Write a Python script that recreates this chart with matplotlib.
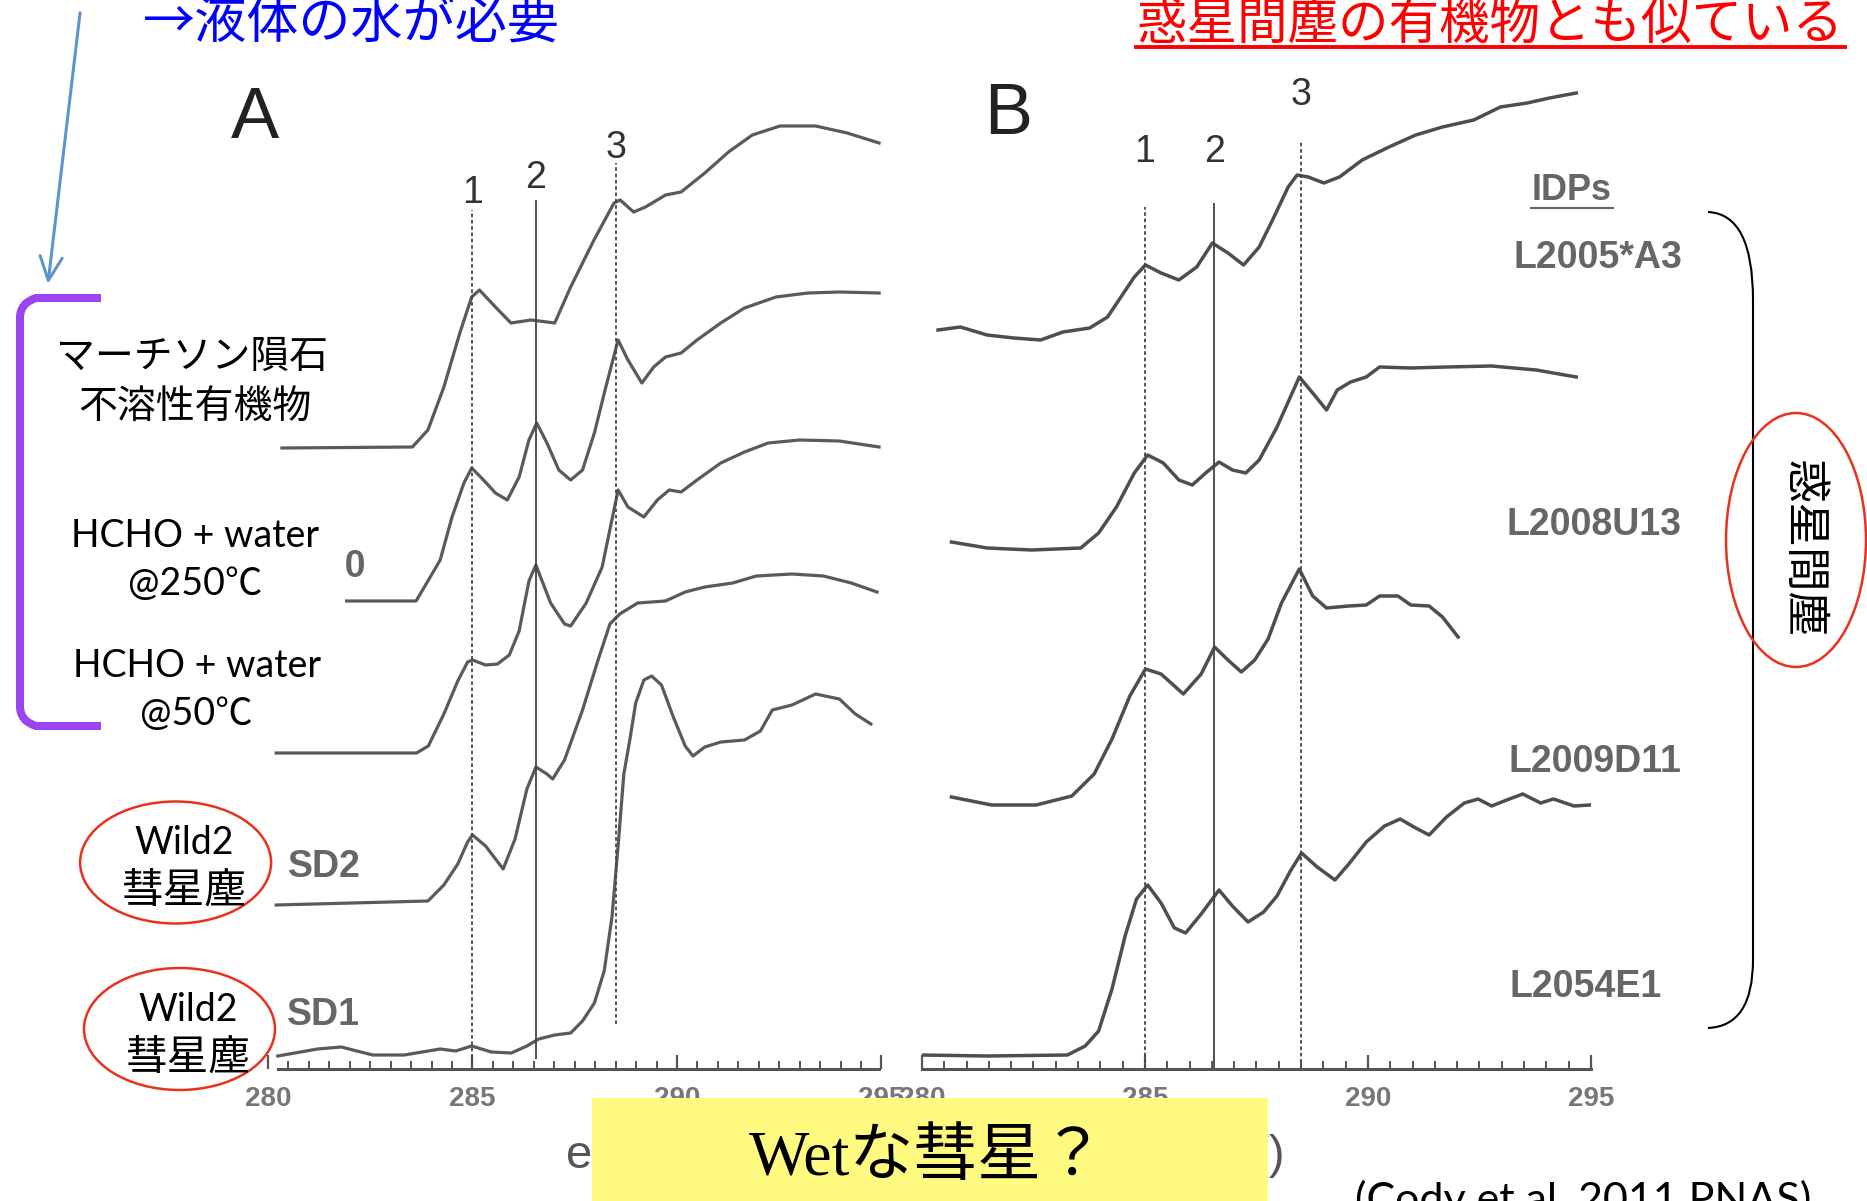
import matplotlib.pyplot as plt
import numpy as np
from matplotlib.patches import Rectangle, Ellipse, PathPatch
from matplotlib.path import Path

plt.rcParams['font.family'] = ['Liberation Sans', 'Noto Sans CJK JP', 'DejaVu Sans']

W, H = 1867, 1201

# C-XANES peak positions (eV)
PEAK_EV = [285.0, 286.55, 288.5]
PEAK_LABELS = ['1', '2', '3']
PEAK_TOP_A = [8.59, 8.69, 9.06]
PEAK_BOTTOM_A = [0.05, 0.1, 0.45]
PEAK_LABEL_Y_A = [8.76, 8.91, 9.21]
PEAK_TOP_B = [8.62, 8.66, 9.29]
PEAK_LABEL_Y_B = [9.17, 9.17, 9.74]

X_TICKS = [280, 285, 290, 295]

# panel A: Murchison IOM, HCHO+water 250C, HCHO+water 50C, SD2, SD1 (stacked)
a_iom_x = [280.34, 283.53, 283.91, 284.30, 284.69, 284.98, 285.17, 285.56, 285.94, 286.43,
           287.01, 287.40, 287.97, 288.46, 288.61, 288.94, 289.23, 289.72, 290.10, 290.68,
           291.26, 291.84, 292.52, 293.39, 294.16, 294.94]
a_iom_y = [6.21, 6.22, 6.39, 6.82, 7.36, 7.72, 7.79, 7.62, 7.46, 7.49,
           7.46, 7.82, 8.29, 8.66, 8.69, 8.57, 8.62, 8.74, 8.77, 8.96,
           9.17, 9.34, 9.43, 9.43, 9.36, 9.26]

a_250_x = [280.20, 281.88, 283.62, 283.91, 284.21, 284.50, 284.79, 284.98, 285.27, 285.56,
           285.85, 286.14, 286.38, 286.57, 286.82, 287.11, 287.40, 287.69, 287.98, 288.26,
           288.56, 288.80, 289.14, 289.43, 289.72, 290.10, 290.49, 291.07, 291.65, 292.42,
           293.20, 293.97, 294.94]
a_250_y = [4.64, 4.68, 4.68, 4.88, 5.09, 5.52, 5.86, 6.01, 5.89, 5.76,
           5.69, 5.92, 6.29, 6.46, 6.26, 5.99, 5.89, 5.99, 6.36, 6.82,
           7.29, 7.09, 6.86, 7.02, 7.12, 7.16, 7.29, 7.46, 7.61, 7.72,
           7.76, 7.77, 7.76]

a_50_x = [280.20, 283.63, 283.92, 284.30, 284.64, 284.88, 285.00, 285.32, 285.61, 285.90,
          286.14, 286.38, 286.55, 286.91, 287.25, 287.40, 287.78, 288.17, 288.56, 288.80,
          289.19, 289.52, 289.81, 290.10, 290.49, 291.07, 291.65, 292.23, 293.00, 293.97,
          294.94]
a_50_y = [3.16, 3.16, 3.23, 3.55, 3.88, 4.07, 4.09, 4.04, 4.05, 4.14,
          4.38, 4.88, 5.04, 4.66, 4.45, 4.43, 4.66, 5.02, 5.79, 5.62,
          5.52, 5.69, 5.79, 5.77, 5.89, 6.06, 6.17, 6.26, 6.29, 6.28,
          6.22]

a_sd2_x = [280.20, 283.91, 284.30, 284.64, 284.88, 285.00, 285.32, 285.75, 286.04, 286.33,
           286.55, 286.82, 286.96, 287.25, 287.69, 288.07, 288.36, 288.60, 289.04, 289.72,
           290.20, 290.68, 291.36, 291.94, 292.81, 293.58, 294.26, 294.89]
a_sd2_y = [1.64, 1.68, 1.84, 2.05, 2.27, 2.34, 2.23, 2.00, 2.30, 2.80,
           3.02, 2.95, 2.90, 3.09, 3.59, 4.09, 4.45, 4.55, 4.66, 4.68,
           4.77, 4.82, 4.86, 4.93, 4.95, 4.93, 4.86, 4.77]

a_sd1_x = [280.24, 281.21, 281.79, 282.56, 283.33, 284.21, 284.59, 284.98, 285.46, 285.95,
           286.33, 286.62, 287.01, 287.40, 287.69, 287.98, 288.22, 288.41, 288.56, 288.70,
           288.85, 288.99, 289.19, 289.38, 289.62, 289.91, 290.20, 290.39, 290.68, 291.07,
           291.65, 292.04, 292.33, 292.81, 293.39, 293.97, 294.36, 294.74]
a_sd1_y = [0.13, 0.20, 0.22, 0.14, 0.14, 0.20, 0.18, 0.23, 0.17, 0.16,
           0.23, 0.30, 0.34, 0.36, 0.48, 0.66, 0.98, 1.52, 2.23, 2.95,
           3.30, 3.66, 3.89, 3.93, 3.84, 3.52, 3.23, 3.13, 3.22, 3.27,
           3.29, 3.38, 3.59, 3.64, 3.75, 3.70, 3.55, 3.45]

# panel B: IDPs
b_a3_x = [280.36, 280.86, 281.46, 282.06, 282.66, 283.16, 283.76, 284.16, 284.46, 284.76,
          285.01, 285.36, 285.76, 286.16, 286.51, 286.86, 287.21, 287.56, 287.86, 288.21,
          288.41, 288.66, 289.01, 289.36, 289.87, 290.47, 291.07, 291.67, 292.37, 292.97,
          293.57, 294.07, 294.67]
b_a3_y = [7.39, 7.42, 7.34, 7.31, 7.29, 7.37, 7.41, 7.52, 7.72, 7.92,
          8.04, 7.96, 7.89, 8.02, 8.26, 8.16, 8.04, 8.22, 8.49, 8.82,
          8.94, 8.92, 8.86, 8.92, 9.09, 9.22, 9.34, 9.42, 9.49, 9.62,
          9.66, 9.71, 9.76]

b_u13_x = [280.66, 281.46, 282.46, 283.56, 283.96, 284.36, 284.76, 285.06, 285.41, 285.76,
           286.06, 286.36, 286.66, 286.96, 287.26, 287.56, 287.96, 288.26, 288.46, 288.76,
           289.07, 289.31, 289.61, 289.96, 290.26, 290.96, 291.76, 292.77, 293.77, 294.67]
b_u13_y = [5.27, 5.21, 5.19, 5.21, 5.36, 5.62, 5.96, 6.14, 6.06, 5.89,
           5.84, 5.96, 6.07, 5.99, 5.96, 6.09, 6.42, 6.72, 6.92, 6.76,
           6.59, 6.79, 6.87, 6.92, 7.02, 7.01, 7.02, 7.03, 6.99, 6.92]

b_d11_x = [280.66, 281.56, 282.56, 283.36, 283.86, 284.26, 284.66, 285.01, 285.36, 285.86,
           286.26, 286.56, 286.86, 287.16, 287.46, 287.76, 288.06, 288.46, 288.76, 289.07,
           289.57, 289.96, 290.26, 290.67, 290.96, 291.37, 291.67, 292.02]
b_d11_y = [2.72, 2.64, 2.64, 2.73, 2.95, 3.30, 3.73, 4.00, 3.95, 3.75,
           3.95, 4.22, 4.09, 3.97, 4.09, 4.30, 4.66, 5.00, 4.73, 4.61,
           4.63, 4.64, 4.73, 4.73, 4.64, 4.63, 4.52, 4.32]

b_e1_x = [279.96, 281.46, 283.26, 283.66, 283.96, 284.26, 284.56, 284.81, 285.06, 285.36,
          285.66, 285.91, 286.26, 286.66, 286.96, 287.31, 287.66, 287.96, 288.26, 288.51,
          288.86, 289.26, 289.57, 289.96, 290.37, 290.72, 291.07, 291.37, 291.76, 292.16,
          292.47, 292.77, 293.17, 293.47, 293.87, 294.16, 294.62, 294.97]
b_e1_y = [0.14, 0.13, 0.14, 0.23, 0.38, 0.80, 1.34, 1.70, 1.84, 1.66,
          1.41, 1.36, 1.55, 1.79, 1.63, 1.47, 1.57, 1.73, 1.98, 2.16,
          2.02, 1.89, 2.05, 2.27, 2.43, 2.50, 2.41, 2.34, 2.52, 2.66,
          2.70, 2.63, 2.70, 2.75, 2.66, 2.70, 2.63, 2.64]

B_NAMES = ['L2005*A3', 'L2008U13', 'L2009D11', 'L2054E1']
B_NAME_X = [295.16, 295.07, 295.09, 294.87]
B_NAME_Y = [8.11, 5.44, 3.07, 0.82]


def px_rect(left, right, bottom=1069, top=69):
    return [left / W, 1 - bottom / H, (right - left) / W, (bottom - top) / H]


def style_panel(ax, spine_lo, spine_hi):
    ax.set_xlim(280, 295)
    ax.set_ylim(0, 10)
    ax.patch.set_alpha(0)
    for side in ['left', 'right', 'top']:
        ax.spines[side].set_visible(False)
    ax.spines['bottom'].set_bounds(spine_lo, spine_hi)
    ax.spines['bottom'].set_linewidth(2.2)
    ax.spines['bottom'].set_color('#555555')
    ax.set_yticks([])
    ax.set_xticks(X_TICKS)
    ax.set_xticks(np.arange(280.5, 295, 0.5), minor=True)
    ax.tick_params(axis='x', which='major', direction='in', length=10, width=1.6,
                   color='#555555', labelsize=20, labelcolor='#777777', pad=12)
    ax.tick_params(axis='x', which='minor', direction='in', length=6, width=1.4,
                   color='#555555')
    for lbl in ax.get_xticklabels():
        lbl.set_fontweight('bold')


fig = plt.figure(figsize=(W / 100, H / 100), dpi=100)
fig.patch.set_facecolor('white')

line_color = '#5a5a5a'

# ---- panel A
ax_a = fig.add_axes(px_rect(268, 881.5))
style_panel(ax_a, 280.25, 294.95)
for xs, ys in [(a_iom_x, a_iom_y), (a_250_x, a_250_y), (a_50_x, a_50_y),
               (a_sd2_x, a_sd2_y), (a_sd1_x, a_sd1_y)]:
    ax_a.plot(xs, ys, color=line_color, lw=2.3, solid_joinstyle='round')
for i, ev in enumerate(PEAK_EV):
    ls = '-' if i == 1 else (0, (2, 1.5))
    ax_a.vlines(ev, PEAK_BOTTOM_A[i], PEAK_TOP_A[i], color='#444444', lw=1.3, linestyles=ls)
    ax_a.text(ev, PEAK_LABEL_Y_A[i], PEAK_LABELS[i], ha='center', va='center',
              fontsize=27, color='#333333')
ax_a.text(279.67, 9.49, 'A', ha='center', va='center', fontsize=52, color='#222222')
ax_a.text(281.38, 2.02, 'SD2', ha='center', va='center', fontsize=27,
          color='#666666', fontweight='bold')
ax_a.text(281.36, 0.54, 'SD1', ha='center', va='center', fontsize=27,
          color='#666666', fontweight='bold')
# original sample label, mostly covered by the white box
ax_a.text(282.40, 5.02, '250', ha='right', va='center', fontsize=27,
          color='#666666', fontweight='bold')

# ---- panel B
ax_b = fig.add_axes(px_rect(922, 1591))
style_panel(ax_b, 280, 295)
for xs, ys in [(b_a3_x, b_a3_y), (b_u13_x, b_u13_y), (b_d11_x, b_d11_y), (b_e1_x, b_e1_y)]:
    ax_b.plot(xs, ys, color='#4e4e4e', lw=2.5, solid_joinstyle='round')
for i, ev in enumerate(PEAK_EV):
    ls = '-' if i == 1 else (0, (2, 1.5))
    ax_b.vlines(ev, 0, PEAK_TOP_B[i], color='#444444', lw=1.3, linestyles=ls)
    ax_b.text(ev, PEAK_LABEL_Y_B[i], PEAK_LABELS[i], ha='center', va='center',
              fontsize=27, color='#333333')
ax_b.text(281.93, 9.53, 'B', ha='center', va='center', fontsize=52, color='#222222')
ax_b.text(294.57, 8.79, 'IDPs', ha='center', va='center', fontsize=26, color='#666666',
          fontweight='bold')
ax_b.plot([293.65, 295.5], [8.61, 8.61], color='#666666', lw=1.5, clip_on=False)
for name, nx, ny in zip(B_NAMES, B_NAME_X, B_NAME_Y):
    ax_b.text(nx, ny, name, ha='center', va='center', fontsize=27, color='#666666',
              fontweight='bold')

# ---- slide annotations (pixel coordinates)
ax_o = fig.add_axes([0, 0, 1, 1], zorder=5)
ax_o.set_xlim(0, W)
ax_o.set_ylim(H, 0)
ax_o.axis('off')

# axis titles, mostly hidden behind the yellow box
ax_o.text(566, 1156, 'energy (eV)', ha='left', va='center', fontsize=34,
          color='#555555', zorder=2)
ax_o.text(1284, 1156, 'energy (eV)', ha='right', va='center', fontsize=34,
          color='#555555', zorder=2)

# white boxes covering the original labels
ax_o.add_patch(Rectangle((40, 330), 308, 108, fc='white', ec='none', zorder=1))
ax_o.add_patch(Rectangle((40, 512), 305, 236, fc='white', ec='none', zorder=1))

jp = ['Noto Sans CJK JP', 'DejaVu Sans']
latin = ['Lato', 'Noto Sans CJK JP', 'DejaVu Sans']

ax_o.text(143, 38, '→液体の水が必要', family=jp, fontsize=37.5, color='#0000ff',
          ha='left', va='baseline')
ax_o.text(1136, 39.5, '惑星間塵の有機物とも似ている', family=jp, fontsize=36.4,
          color='#ff0000', ha='left', va='baseline')
ax_o.plot([1136, 1845], [47, 47], color='#ff0000', lw=2.8)

ax_o.annotate('', xy=(47.6, 286.7), xytext=(80.4, 10),
              arrowprops=dict(arrowstyle='->,head_length=0.85,head_width=0.4',
                              color='#5b95d0', lw=2.2, mutation_scale=20))

# purple bracket
br = Path([(101, 298), (36, 298), (20, 303), (20, 318), (20, 706), (20, 721), (36, 726), (101, 726)],
          [Path.MOVETO, Path.LINETO, Path.CURVE3, Path.CURVE3, Path.LINETO,
           Path.CURVE3, Path.CURVE3, Path.LINETO])
ax_o.add_patch(PathPatch(br, fc='none', ec='#9a45f0', lw=5.8, capstyle='butt'))

ax_o.text(192, 357, 'マーチソン隕石', family=jp, fontsize=28, ha='center', va='center')
ax_o.text(195, 408, '不溶性有機物', family=jp, fontsize=28, ha='center', va='center')
ax_o.text(195, 536, 'HCHO + water', family=latin, fontsize=27, ha='center', va='center')
ax_o.text(195, 584, '@250℃', family=latin, fontsize=27, ha='center', va='center')
ax_o.text(197, 666, 'HCHO + water', family=latin, fontsize=27, ha='center', va='center')
ax_o.text(196, 714, '@50℃', family=latin, fontsize=27, ha='center', va='center')

# Wild2 ellipses
for cx, cy in [(175.6, 862.5), (179.5, 1029)]:
    ax_o.add_patch(Ellipse((cx, cy), 191, 122, fc='white', ec='#e8321e', lw=1.8))
    ax_o.text(cx + 9, cy - 19, 'Wild2', family=latin, fontsize=27, ha='center', va='center')
    ax_o.text(cx + 9, cy + 29, '彗星塵', family=jp, fontsize=30, ha='center', va='center')

# right brace and IDP ellipse
rb = Path([(1708, 212), (1753, 214), (1753, 300), (1753, 960), (1753, 1026), (1708, 1028)],
          [Path.MOVETO, Path.CURVE3, Path.CURVE3, Path.LINETO, Path.CURVE3, Path.CURVE3])
ax_o.add_patch(PathPatch(rb, fc='none', ec='black', lw=1.5))
ax_o.add_patch(Ellipse((1796, 540), 140, 254, fc='none', ec='#e8321e', lw=1.8))
ax_o.text(1803, 549, '惑星間塵', family=jp, fontsize=32, rotation=-90,
          ha='center', va='center')

# yellow box
ax_o.add_patch(Rectangle((592, 1098), 676, 110, fc='#fffa80', ec='none', zorder=4))
ax_o.text(927, 1160, 'Wetな彗星？', family=['Liberation Serif', 'Noto Sans CJK JP'],
          fontsize=46, ha='center', va='center', zorder=5)

ax_o.text(1355, 1213, '(Cody et al. 2011 PNAS)', family=latin, fontsize=31,
          ha='left', va='baseline')

fig.savefig('out.png', dpi=100)
